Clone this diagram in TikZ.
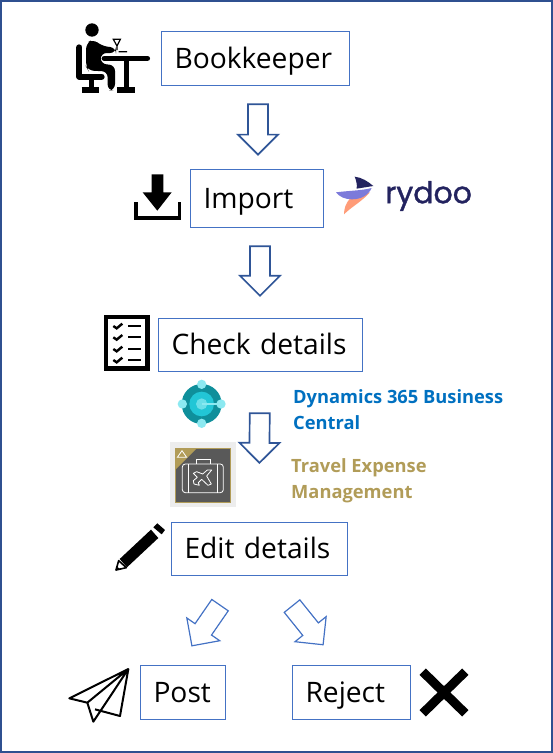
\documentclass[tikz,border=0pt]{standalone}
\usepackage{fontspec}
\usepackage{xcolor}
\usepackage{tikz}
\usetikzlibrary{calc,positioning}
\setmainfont{Open Sans}
\newfontfamily\rydoofont[FakeBold=1.2]{Poppins}
\definecolor{framecol}{HTML}{2F5090}
\definecolor{boxcol}{HTML}{4472C4}
\definecolor{arrowcol}{HTML}{2F5597}
\definecolor{dyncol}{HTML}{0070C0}
\definecolor{travelcol}{HTML}{B19C58}
\definecolor{rydark}{HTML}{23235F}
\definecolor{rypurple}{HTML}{7C7ADA}
\definecolor{ryorange}{HTML}{FF9C78}
\definecolor{bcdark}{HTML}{0F8F9B}
\definecolor{bcmid}{HTML}{22C6D6}
\definecolor{bclight}{HTML}{8CE9F1}
\tikzset{
    stepbox/.style={draw=boxcol, line width=1pt, align=left, inner xsep=13.5pt, inner ysep=0pt,
        text height=22pt, text depth=2pt, minimum height=54pt, font=\fontsize{28.2}{33}\selectfont},
    notelabel/.style={align=left, anchor=north west, inner sep=0pt, font=\fontsize{18.3}{26}\selectfont\bfseries},
    blockarrow/.style n args={2}{draw=arrowcol, line width=1.7pt, line join=miter, to path={
        ($(\tikztostart)!#1!(\tikztotarget)$) coordinate (ta)
        ($(\tikztostart)!#2!(\tikztotarget)$) coordinate (tb)
        ($(tb)!20pt!(ta)$) coordinate (tn)
        ($(ta)!10pt!90:(tb)$) -- ($(tn)!10pt!90:(tb)$) -- ($(tn)!20pt!90:(tb)$) -- (tb)
        -- ($(tn)!20pt!-90:(tb)$) -- ($(tn)!10pt!-90:(tb)$) -- ($(ta)!10pt!-90:(tb)$) -- cycle}}
}
\begin{document}
\begin{tikzpicture}[x=1pt, y=-1pt]
\useasboundingbox (0,0) rectangle (553,753);
\draw[framecol, line width=2pt] (1,1) rectangle (551.5,751.5);

\node[stepbox, text width=161pt] (book) at (255,58) {Bookkeeper};
\node[stepbox, text width=106pt, minimum height=58pt] (imp) at (256.5,198) {Import};
\node[stepbox, text width=177pt, minimum height=53pt] (check) at (260,344.5) {Check details};
\node[stepbox, text width=149pt, minimum height=53pt] (edit) at (259,548.5) {Edit details};
\node[stepbox, text width=58pt] (post) at (182.5,692) {Post};
\node[stepbox, text width=91pt] (reject) at (351,692) {Reject};

\draw[blockarrow={.226}{.833}] ([xshift=3pt]book.south) to ([xshift=1.5pt]imp.north);
\draw[blockarrow={.209}{.758}] ([xshift=3.5pt]imp.south) to (check.north);
\draw[blockarrow={.278}{.609}] (check.south) to (edit.north);
\draw[blockarrow={.333}{.79}, line width=1.2pt, draw=boxcol] ([xshift=-18.5pt]edit.south) to ([xshift=-3.5pt]post.north);
\draw[blockarrow={.344}{.778}, line width=1.2pt, draw=boxcol] ([xshift=8.4pt]edit.south) to ([xshift=-12pt]reject.north);

\node[notelabel, text=dyncol] (dyn) at (293,389) {Dynamics 365 Business\\Central};
\node[notelabel, text=travelcol] (travel) at (291,458) {Travel Expense\\Management};
\node[anchor=west, inner sep=0pt, text=rydark, font=\rydoofont\fontsize{30}{30}\selectfont] (rydoo) at (385,196) {rydoo};

% bookkeeper at desk
\begin{scope}[shift={(60,0)}, scale=1/3]
\fill (96,90) circle (20);
\fill[rounded corners=6pt] (78,130) -- (100,117) -- (125,138) -- (168,143) -- (168,159) -- (122,159) -- (122,192)
    -- (165,195) -- (165,270) -- (143,272) -- (143,214) -- (85,212) -- (78,200) -- cycle;
\draw[line width=6pt, line cap=round, line join=round] (58,142) -- (58,230) -- (125,230);
\draw[line width=5pt] (95,235) -- (95,265);
\draw[line width=5.5pt] (65,270) -- (118,270);
\draw[line width=5.5pt, line cap=round] (133,175) -- (262,175);
\draw[line width=5pt] (198,180) -- (198,265);
\draw[line width=5.5pt] (172,270) -- (224,270);
\draw[line width=1.2pt] (160,118) -- (181,118) -- (171,138) -- cycle (171,138) -- (171,150) (176,155) -- (201,155);
\end{scope}

% download
\begin{scope}[shift={(60,0)}, scale=1/3]
\fill (275,523) -- (310,523) -- (310,577) -- (335,577) -- (292,632) -- (248,577) -- (275,577) -- cycle;
\draw[line width=3.5pt] (228,606) -- (228,654) -- (358,654) -- (358,606);
\end{scope}

% rydoo mark
\begin{scope}[shift={(320,160)}, scale=1/3]
\fill[ryorange] (150,97) .. controls (125,125) and (95,140) .. (72,163) .. controls (72,145) and (78,130) .. (88,118) -- cycle;
\fill[rypurple] (48,97) .. controls (85,92) and (125,92) .. (155,84) .. controls (145,105) and (125,118) .. (95,118) .. controls (75,118) and (58,110) .. (48,97) -- cycle;
\fill[rydark] (104,50) .. controls (125,52) and (145,65) .. (160,78) -- (110,86) .. controls (112,72) and (108,60) .. (104,50) -- cycle;
\end{scope}

% checklist
\begin{scope}[shift={(90,300)}, scale=1/3]
\draw[line width=4.5pt, line join=miter] (48,51) rectangle (172,206);
\foreach \yy in {78,112,147,180} {
    \draw[line width=2.4pt] (70,\yy) -- (80,\yy+7) -- (97,\yy-7);
    \draw[line width=2.2pt] (115,\yy) -- (152,\yy);
}
\end{scope}

% business central logo
\begin{scope}[shift={(90,300)}, scale=1/3]
\fill[bcdark] (335,312) circle (60);
\fill[bcmid] (335,312) circle (37);
\fill[bclight!70!bcmid] (335,312) circle (17);
\draw[bclight, line width=2pt] (335,312) -- (393,312);
\foreach \xx/\yy in {335/253,277/312,335/370,393/312}
    \fill[bclight] (\xx,\yy) circle (14);
\end{scope}

% travel expense tile
\begin{scope}[shift={(90,300)}, scale=1/3]
\fill[black!7] (240,427) rectangle (437,622);
\fill[black!65, draw=travelcol, line width=1pt] (255,445) rectangle (422,608);
\fill[travelcol] (255,445) -- (320,445) -- (255,510) -- cycle;
\draw[white, line width=.8pt] (262,472) -- (276,452) -- (290,472) -- cycle;
\draw[white, line width=.8pt, rounded corners=3pt] (277,492) rectangle (400,578);
\draw[white, line width=.8pt] (318,492) -- (318,478) -- (360,478) -- (360,492);
\draw[white, line width=.8pt] (296,492) -- (296,578) (382,492) -- (382,578);
\draw[white, line width=.8pt, line join=round] (365,510) -- (350,528) -- (364,552) -- (354,556) -- (335,538)
    -- (325,548) -- (328,556) -- (312,552) -- (310,542) -- (322,532) -- (310,520) -- (320,515) -- (338,522) -- (352,510) -- cycle;
\end{scope}

% pencil
\begin{scope}[shift={(50,510)}, scale=1/3]
\fill (209,147) -- (303,59) -- (325,84) -- (231,172) -- cycle;
\fill (310,52) -- (322,40) -- (345,60) -- (335,73) -- cycle;
\draw[fill=white, line width=1.6pt, line join=round] (206,152) -- (229,173) -- (198,180) -- cycle;
\fill (197,182) -- (201,170) -- (210,177) -- cycle;
\end{scope}

% paper plane
\begin{scope}[shift={(50,510)}, scale=1/3]
\draw[line width=2pt, line join=round] (58,565) -- (235,477) -- (112,578) -- cycle
    (112,578) -- (130,635) -- (235,477) (135,598) -- (210,618) -- (235,477);
\end{scope}

% cross
\begin{scope}[shift={(50,510)}, scale=1/3]
\draw[line width=9pt] (1118,485) -- (1246,610) (1246,485) -- (1118,610);
\end{scope}
\end{tikzpicture}
\end{document}
